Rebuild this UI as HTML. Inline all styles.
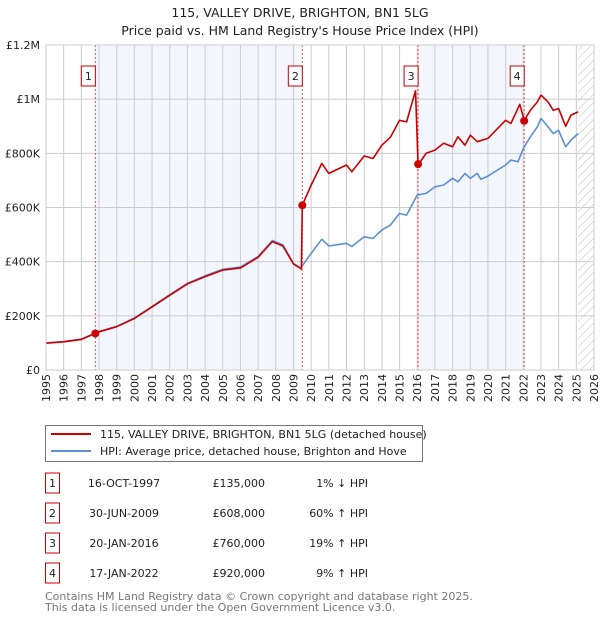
<!DOCTYPE html>
<html><head><meta charset="utf-8">
<style>
body{margin:0;background:#fff;font-family:"DejaVu Sans","Liberation Sans",sans-serif;}
svg text{font-family:"DejaVu Sans","Liberation Sans",sans-serif;}
</style></head>
<body>
<svg id="chart" width="600" height="620" xmlns="http://www.w3.org/2000/svg">
<defs>
<pattern id="hatch" patternUnits="userSpaceOnUse" width="6" height="6" patternTransform="rotate(45)">
<line x1="0" y1="0" x2="0" y2="6" stroke="#bbb" stroke-width="1"/></pattern>
</defs>
<text x="300" y="17" text-anchor="middle" font-size="12.5" fill="#222">115, VALLEY DRIVE, BRIGHTON, BN1 5LG</text>
<text x="300" y="35" text-anchor="middle" font-size="12.5" fill="#222">Price paid vs. HM Land Registry's House Price Index (HPI)</text>
<g id="plot"></g>
<g>
<rect x="45.5" y="425.5" width="377" height="36" fill="#fff" stroke="#777"/>
<line x1="51" y1="434" x2="91" y2="434" stroke="#cc0000" stroke-width="2"/>
<text x="100" y="438" font-size="11" fill="#222">115, VALLEY DRIVE, BRIGHTON, BN1 5LG (detached house)</text>
<line x1="51" y1="451" x2="91" y2="451" stroke="#5b8fd4" stroke-width="2"/>
<text x="100" y="455" font-size="11" fill="#222">HPI: Average price, detached house, Brighton and Hove</text>
</g>
<g id="table" font-size="11" fill="#222"></g>
<text x="45" y="600" font-size="11" fill="#777">Contains HM Land Registry data © Crown copyright and database right 2025.</text>
<text x="45" y="611" font-size="11" fill="#777">This data is licensed under the Open Government Licence v3.0.</text>
</svg>
<script>
const hpiYears=[1995,1996,1997,1998,1999,2000,2001,2002,2003,2004,2005,2006,2007,2007.8,2008.4,2009,2009.4,2010,2010.6,2011,2012,2012.3,2013,2013.5,2014,2014.5,2015,2015.4,2016,2016.5,2017,2017.5,2018,2018.3,2018.7,2019,2019.4,2019.6,2020,2021,2021.3,2021.7,2022,2022.4,2022.8,2023,2023.4,2023.7,2024,2024.4,2024.7,2025.1];
const hpiValues=[100,105,114,142,161,192,235,278,320,348,372,380,419,478,462,394,376,431,483,458,468,456,492,486,517,536,578,572,646,652,676,683,708,695,726,708,726,704,716,757,775,769,818,861,898,929,898,873,885,824,849,873];
const priceYears=[1995,1996,1997,1997.79,1998,1999,2000,2001,2002,2003,2004,2005,2006,2007,2007.8,2008.4,2009,2009.45,2009.5,2010,2010.6,2011,2012,2012.3,2013,2013.5,2014,2014.5,2015,2015.4,2015.9,2016.05,2016.5,2017,2017.5,2018,2018.3,2018.7,2019,2019.4,2020,2021,2021.3,2021.8,2022.05,2022.4,2022.8,2023,2023.4,2023.7,2024,2024.4,2024.7,2025.1];
const priceValues=[99,104,113,135,141,160,190,233,276,318,345,369,377,416,474,458,391,373,608,683,763,726,757,732,790,781,830,861,922,916,1031,757,800,812,837,824,861,830,867,843,855,922,910,981,922,959,990,1015,990,959,965,900,941,953];
const saleYears=[1997.79,2009.5,2016.05,2022.05];
const saleValues=[135,608,760,920];
const saleLabels=["1","2","3","4"];
const saleDates=["16-OCT-1997","30-JUN-2009","20-JAN-2016","17-JAN-2022"];
const salePrices=["£135,000","£608,000","£760,000","£920,000"];
const saleHpi=["1% ↓ HPI","60% ↑ HPI","19% ↑ HPI","9% ↑ HPI"];
const yTicks=[0,200,400,600,800,1000,1200];
const yTickLabels=["£0","£200K","£400K","£600K","£800K","£1M","£1.2M"];
const ns="http://www.w3.org/2000/svg";
const X0=46,X1=594,Y0=370,Y1=45;
const x=y=>X0+(y-1995)*(X1-X0)/31;
const yv=v=>Y0-v/1200*(Y0-Y1);
const plot=document.getElementById('plot');
function mk(t,a,p){const e=document.createElementNS(ns,t);for(const k in a)e.setAttribute(k,a[k]);(p||plot).appendChild(e);return e;}
let r;
r=mk('rect',{x:X0,y:Y1,width:X1-X0,height:Y0-Y1,fill:'#fff'});

r=mk('rect',{x:x(saleYears[0]),y:Y1,width:x(saleYears[1])-x(saleYears[0]),height:Y0-Y1,fill:'#eef3fc',opacity:0.7});

r=mk('rect',{x:x(saleYears[2]),y:Y1,width:x(saleYears[3])-x(saleYears[2]),height:Y0-Y1,fill:'#eef3fc',opacity:0.7});

r=mk('rect',{x:x(2025.1),y:Y1,width:X1-x(2025.1),height:Y0-Y1,fill:'url(#hatch)'});

for(let yr=1995;yr<=2026;yr++){
 r=mk('line',{x1:x(yr),x2:x(yr),y1:Y1,y2:Y0,stroke:'#ccc','stroke-width':1});
 
 const t=mk('text',{x:0,y:0,'font-size':11,fill:'#222','text-anchor':'end',transform:`translate(${x(yr)+4},${Y0+4}) rotate(-90)`});
 t.textContent=yr;
 
}
yTicks.forEach((v,i)=>{
 r=mk('line',{x1:X0,x2:X1,y1:yv(v),y2:yv(v),stroke:'#ccc','stroke-width':1});
 
 const t=mk('text',{x:X0-6,y:yv(v)+4,'font-size':11,fill:'#222','text-anchor':'end'});
 t.textContent=yTickLabels[i];
 
});
saleYears.forEach((s,i)=>{
 r=mk('line',{x1:x(s),x2:x(s),y1:Y1,y2:Y0,stroke:'#e05050','stroke-width':1,'stroke-dasharray':'2,2'});
 
});
function path(xs,vs,col,name){
 const d=xs.map((a,i)=>(i?'L':'M')+x(a).toFixed(1)+','+yv(vs[i]).toFixed(1)).join('');
 const p=mk('path',{d:d,fill:'none',stroke:col,'stroke-width':1.6,'stroke-linejoin':'round'});
 
}
path(hpiYears,hpiValues,'#5b8fd4','hpi-line');
path(priceYears,priceValues,'#cc0000','price-line');
saleYears.forEach((s,i)=>{
 const c=mk('circle',{cx:x(s),cy:yv(saleValues[i]),r:4,fill:'#cc0000'});
 
 const g=mk('g',{});
 
 mk('rect',{x:x(s)-14,y:66,width:14,height:20,fill:'#fff',stroke:'#cc0000'},g);
 const t=mk('text',{x:x(s)-7,y:80,'font-size':11,fill:'#222','text-anchor':'middle'},g);
 t.textContent=saleLabels[i];
});
r=mk('rect',{x:X0,y:Y1,width:X1-X0,height:Y0-Y1,fill:'none',stroke:'#ccc'});

const tb=document.getElementById('table');
saleLabels.forEach((l,i)=>{
 const yy=483+i*30;
 const g=mk('g',{},tb);
 
 mk('rect',{x:45.5,y:yy-10,width:14,height:20,fill:'#fff',stroke:'#cc0000'},g);
 let t=mk('text',{x:52.5,y:yy+4,'text-anchor':'middle'},g);t.textContent=l;
 t=mk('text',{x:124,y:yy+4,'text-anchor':'middle'},g);t.textContent=saleDates[i];
 t=mk('text',{x:265,y:yy+4,'text-anchor':'end'},g);t.textContent=salePrices[i];
 t=mk('text',{x:368,y:yy+4,'text-anchor':'end'},g);t.textContent=saleHpi[i];
});
</script>
</body></html>
